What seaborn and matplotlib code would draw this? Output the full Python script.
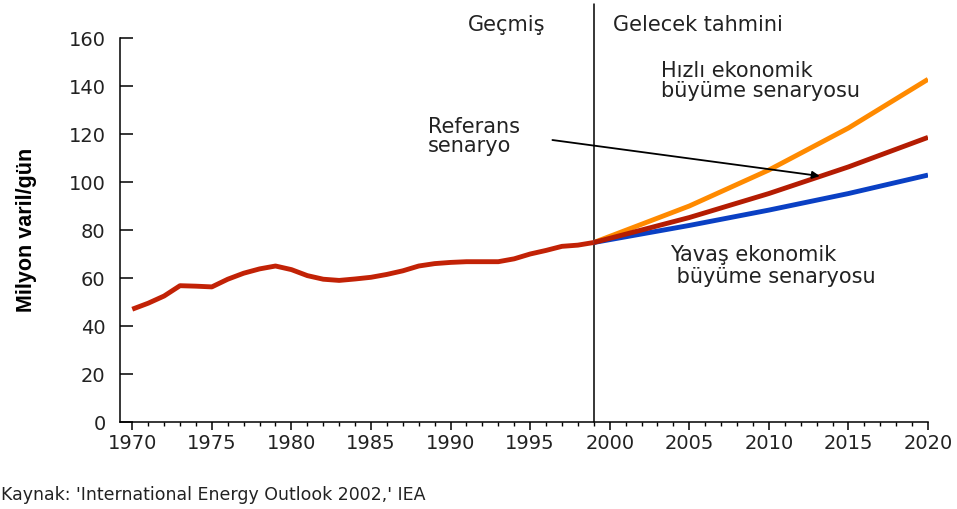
import numpy as np
import pandas as pd
import matplotlib
matplotlib.use("Agg")
import matplotlib.pyplot as plt
import seaborn as sns
from matplotlib.ticker import MultipleLocator

# ---- data ----
hist_years = list(range(1970, 2000))
hist_values = [47.0, 49.5, 52.5, 56.8, 56.6, 56.3, 59.5, 62.0, 63.8, 65.0,
               63.5, 61.0, 59.5, 59.0, 59.6, 60.3, 61.5, 63.0, 65.0, 66.0,
               66.5, 66.8, 66.8, 66.8, 68.0, 70.0, 71.5, 73.2, 73.7, 74.8]

proj_years = [1999, 2005, 2010, 2015, 2020]
high_values = [74.8, 90.0, 105.0, 122.5, 142.8]
ref_values = [74.8, 85.2, 95.2, 106.3, 118.6]
low_values = [74.8, 81.9, 88.3, 95.2, 102.9]

colors = {"Geçmiş": "#C22206", "Hızlı": "#FF8A00",
          "Referans": "#B41C02", "Yavaş": "#0A40C4"}

df = pd.concat([
    pd.DataFrame({"year": hist_years, "value": hist_values, "series": "Geçmiş"}),
    pd.DataFrame({"year": proj_years, "value": high_values, "series": "Hızlı"}),
    pd.DataFrame({"year": proj_years, "value": low_values, "series": "Yavaş"}),
    pd.DataFrame({"year": proj_years, "value": ref_values, "series": "Referans"}),
])

sns.set_style("white")
plt.rcParams["font.family"] = ["DejaVu Sans"]

fig = plt.figure(figsize=(9.57, 5.09), dpi=100)
ax = fig.add_axes([0.1249, 0.1709, 0.8448, 0.7544])

sns.lineplot(data=df, x="year", y="value", hue="series",
             hue_order=["Geçmiş", "Hızlı", "Yavaş", "Referans"],
             palette=colors, linewidth=3.5, legend=False, ax=ax,
             solid_capstyle="butt")

ax.set_xlim(1969.2, 2020)
ax.set_ylim(0, 160)
ax.xaxis.set_major_locator(MultipleLocator(5))
ax.xaxis.set_minor_locator(MultipleLocator(1))
ax.yaxis.set_major_locator(MultipleLocator(20))

for s in ["top", "right"]:
    ax.spines[s].set_visible(False)
for s in ["left", "bottom"]:
    ax.spines[s].set_color("black")
    ax.spines[s].set_linewidth(1.1)

ax.tick_params(axis="x", which="major", direction="out", length=6,
               width=1.1, color="black", labelsize=14, pad=2.5,
               labelcolor="#222222", bottom=True)
ax.tick_params(axis="x", which="minor", direction="out", length=3,
               width=1.0, color="black", bottom=True)
ax.tick_params(axis="y", which="major", direction="in", length=9,
               width=1.1, color="black", labelsize=14, pad=10,
               labelcolor="#222222", left=True)

ax.set_xlabel("")
ax.set_ylabel("Milyon varil/gün", fontsize=15.5, fontweight="bold",
              color="black", family=["Liberation Sans", "DejaVu Sans"],
              labelpad=23)

# divider between history and projection
ax.plot([1999, 1999], [0, 174], color="black", lw=1.1, clip_on=False, zorder=1)

txt = dict(fontsize=15, color="#222222", ha="left", va="center")
ax.text(1991.1, 165.5, "Geçmiş", **txt, clip_on=False)
ax.text(2000.2, 165.5, "Gelecek tahmini", **txt, clip_on=False)
ax.text(2003.2, 142.0, "Hızlı ekonomik\nbüyüme senaryosu", linespacing=1.0, **txt)
ax.text(1988.6, 119.0, "Referans\nsenaryo", linespacing=0.92, **txt)
ax.text(2003.8, 65.0, "Yavaş ekonomik\n büyüme senaryosu", linespacing=1.15, **txt)

ax.annotate("", xy=(2013.2, 102.5), xytext=(1996.4, 117.5),
            arrowprops=dict(arrowstyle="-|>", color="black", lw=1.3,
                            mutation_scale=11, shrinkA=0, shrinkB=0))

fig.text(1 / 957, 1 - 495 / 509, "Kaynak: 'International Energy Outlook 2002,' IEA",
         fontsize=12.5, color="#222222", ha="left", va="center")

fig.savefig("out.png", dpi=100)
